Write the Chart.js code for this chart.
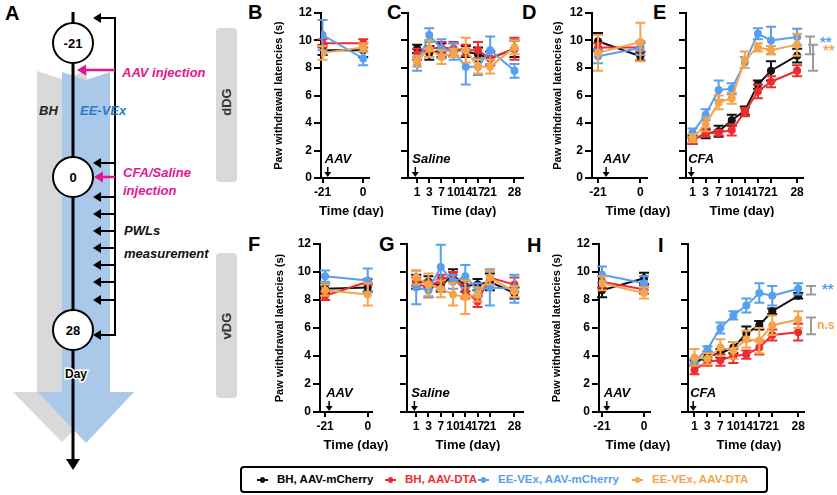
<!DOCTYPE html>
<html>
<head>
<meta charset="utf-8">
<script src="https://cdn.jsdelivr.net/npm/chart.js@4.4.1/dist/chart.umd.min.js"></script>
<style>
html, body { margin: 0; padding: 0; background: #fff; }
#page { position: relative; width: 837px; height: 495px; overflow: hidden; font-family: 'Liberation Sans', Arial, sans-serif; }
#page svg { position: absolute; left: 0; top: 0; }
#legend { position: absolute; left: 240px; top: 466px; width: 524px; height: 23px; border: 2px solid #000; border-radius: 4px; }
.item { position: absolute; top: 4px; font-size: 11.5px; font-weight: bold; line-height: 15px; white-space: nowrap; }
.mk { position: absolute; top: 11px; width: 11px; height: 2px; }
.mk::after { content: ''; position: absolute; left: 3px; top: -2px; width: 5px; height: 6px; border-radius: 50%; background: inherit; }
</style>
</head>
<body>
<div id="page">
<svg width="837" height="495" viewBox="0 0 837 495">
  <g font-family="'Liberation Sans', Arial, sans-serif" font-weight="bold">
    <!-- panel letters -->
    <text x="5" y="20" font-size="20">A</text>
    <text x="248" y="19" font-size="20">B</text>
    <text x="387" y="19" font-size="20">C</text>
    <text x="522" y="19" font-size="20">D</text>
    <text x="653" y="19" font-size="20">E</text>
    <text x="248" y="251" font-size="20">F</text>
    <text x="379" y="251" font-size="20">G</text>
    <text x="527" y="252" font-size="20">H</text>
    <text x="658" y="252" font-size="20">I</text>

    <!-- dDG / vDG side bars -->
    <rect x="216" y="28" width="21" height="154" rx="4" fill="#d9d9d9"/>
    <rect x="216" y="253" width="21" height="145" rx="4" fill="#d9d9d9"/>
    <text x="226.5" y="102" font-size="13" fill="#333" text-anchor="middle" transform="rotate(-90 226.5 102)" dy="4.5">dDG</text>
    <text x="226.5" y="326" font-size="13" fill="#333" text-anchor="middle" transform="rotate(-90 226.5 326)" dy="4.5">vDG</text>

    <!-- housing arrows -->
    <polygon fill="#d9d9d9" points="37,71 62,79 87,71 87,392 111,392 62,442 13,392 37,392"/>
    <polygon fill="#a9c8ea" points="62,72 86,80 110,72 110,392 134,392 86,443 38,392 62,392"/>

    <!-- timeline -->
    <line x1="73" y1="12" x2="73" y2="462" stroke="#000" stroke-width="3"/>
    <polygon points="66,459 80,459 73,470" fill="#000"/>

    <!-- measurement bracket -->
    <polyline points="101,18 115,18 115,335 101,335" fill="none" stroke="#000" stroke-width="2"/>
    <g stroke="#000" stroke-width="2">
      <line x1="101" y1="163" x2="115" y2="163"/>
      <line x1="101" y1="197" x2="115" y2="197"/>
      <line x1="101" y1="214" x2="115" y2="214"/>
      <line x1="101" y1="231" x2="115" y2="231"/>
      <line x1="101" y1="248" x2="115" y2="248"/>
      <line x1="101" y1="265" x2="115" y2="265"/>
      <line x1="101" y1="282" x2="115" y2="282"/>
      <line x1="101" y1="300" x2="115" y2="300"/>
    </g>
    <g fill="#000">
      <polygon points="93,18 101,13 101,23"/>
      <polygon points="93,163 101,158 101,168"/>
      <polygon points="93,197 101,192 101,202"/>
      <polygon points="93,214 101,209 101,219"/>
      <polygon points="93,231 101,226 101,236"/>
      <polygon points="93,248 101,243 101,253"/>
      <polygon points="93,265 101,260 101,270"/>
      <polygon points="93,282 101,277 101,287"/>
      <polygon points="93,300 101,295 101,305"/>
      <polygon points="93,335 101,330 101,340"/>
    </g>

    <!-- day circles -->
    <g fill="#fff" stroke="#000" stroke-width="2">
      <circle cx="73" cy="43" r="20"/>
      <circle cx="73" cy="177" r="20"/>
      <circle cx="73" cy="330" r="20"/>
    </g>
    <g font-size="13" text-anchor="middle">
      <text x="73" y="47.5">-21</text>
      <text x="73" y="181.5">0</text>
      <text x="73" y="334.5">28</text>
    </g>
    <text x="76" y="377.5" font-size="12" text-anchor="middle" stroke="#fff" stroke-width="3" paint-order="stroke">Day</text>

    <!-- injections -->
    <line x1="84" y1="70" x2="115" y2="70" stroke="#e3168c" stroke-width="2.5"/>
    <polygon points="77,70 86,64.5 86,75.5" fill="#e3168c"/>
    <line x1="101" y1="177" x2="115" y2="177" stroke="#e3168c" stroke-width="2.5"/>
    <polygon points="94,177 103,171.5 103,182.5" fill="#e3168c"/>
    <g font-style="italic" font-size="13">
      <text x="122" y="76.5" fill="#e3168c">AAV injection</text>
      <text x="123" y="176.5" fill="#e3168c">CFA/Saline</text>
      <text x="123" y="194.5" fill="#e3168c">injection</text>
      <text x="39" y="114.5" fill="#222">BH</text>
      <text x="80" y="114.5" fill="#2b7cc4">EE-VEx</text>
      <text x="124" y="234.5" fill="#111">PWLs</text>
      <text x="124" y="257.5" fill="#111">measurement</text>
    </g>
  </g>
</svg>
<div id="legend"></div>
</div>

<script>
// groups, in the order of the reference legend
const groups = ['BH, AAV-mCherry', 'BH, AAV-DTA', 'EE-VEx, AAV-mCherry', 'EE-VEx, AAV-DTA'];
const groupColors = ['#111111', '#ee2c2f', '#579ff0', '#f6a449'];

const preDays = [-21, 0];
// '' is the empty slot between day 21 and day 28 on the axis
const postLabels = ['1', '3', '7', '10', '14', '17', '21', '', '28'];

// dDG, before injection (B) and after saline (C) / CFA (D, E)
const bMean = [[9.3, 9.3], [9.8, 9.8], [10.4, 8.7], [9.1, 9.5]];
const bSem = [[0.35, 0.5], [0.3, 0.3], [1.1, 0.5], [0.5, 0.3]];

const cMean = [
  [9.4, 9.1, 9.3, 9.3, 9.2, 9.0, 8.7, 9.4],
  [9.0, 9.4, 9.5, 9.4, 9.3, 9.3, 8.7, 9.4],
  [8.3, 10.4, 9.4, 9.2, 8.1, 8.1, 9.3, 7.8],
  [8.5, 9.4, 8.8, 9.1, 9.3, 8.1, 8.1, 9.5]
];
const cSem = [
  [0.3, 0.5, 0.5, 0.5, 0.4, 0.5, 0.5, 0.6],
  [0.4, 0.6, 0.4, 0.5, 0.4, 0.6, 0.5, 0.8],
  [0.5, 0.5, 0.7, 0.6, 1.3, 0.6, 1.0, 0.5],
  [0.4, 0.6, 0.5, 0.3, 0.9, 0.5, 0.5, 0.5]
];

const dMean = [[9.95, 8.85], [9.5, 9.5], [8.85, 9.45], [9.1, 9.9]];
const dSem = [[0.6, 0.3], [0.3, 0.3], [0.5, 0.5], [1.3, 1.4]];

const eMean = [
  [2.8, 3.2, 3.4, 4.2, 4.9, 6.8, 7.8, 8.9],
  [2.7, 3.3, 3.3, 3.5, 4.8, 6.3, 7.0, 7.8],
  [3.3, 4.6, 6.4, 6.5, 8.4, 10.5, 10.0, 10.25],
  [2.9, 3.9, 5.5, 5.8, 8.6, 9.5, 9.3, 9.7]
];
const eSem = [
  [0.3, 0.3, 0.4, 0.4, 0.3, 0.3, 0.7, 0.5],
  [0.2, 0.3, 0.2, 0.4, 0.3, 0.5, 0.4, 0.4],
  [0.3, 0.4, 0.7, 0.4, 0.4, 0.4, 1.0, 0.6],
  [0.3, 0.5, 0.5, 0.4, 0.6, 0.3, 0.3, 0.8]
];

// vDG (F, G, H, I)
const fMean = [[8.8, 8.9], [8.3, 9.3], [9.7, 9.4], [8.7, 8.4]];
const fSem = [[0.3, 0.3], [0.3, 0.2], [0.4, 0.85], [0.4, 0.8]];

const gMean = [
  [9.3, 9.3, 9.0, 9.8, 9.0, 9.1, 9.3, 8.5],
  [9.3, 8.8, 9.5, 9.7, 8.6, 7.9, 9.6, 9.1],
  [8.9, 8.7, 10.35, 9.3, 9.7, 8.7, 8.9, 8.8],
  [9.6, 9.1, 8.8, 8.4, 8.2, 8.4, 9.6, 8.6]
];
const gSem = [
  [0.5, 0.4, 0.4, 0.4, 0.4, 0.4, 0.6, 0.4],
  [0.3, 0.6, 0.3, 0.3, 0.5, 0.4, 0.5, 0.5],
  [1.2, 0.5, 1.6, 0.5, 0.8, 0.5, 1.3, 1.0],
  [0.5, 0.8, 0.6, 0.8, 1.2, 0.5, 0.5, 0.4]
];

const hMean = [[8.7, 9.55], [9.3, 8.75], [9.8, 9.2], [9.2, 8.5]];
const hSem = [[0.5, 0.4], [0.4, 0.3], [0.6, 0.5], [0.5, 0.4]];

const iMean = [
  [3.5, 4.0, 4.2, 4.6, 5.6, 6.2, 7.2, 8.3],
  [3.0, 3.6, 3.7, 4.0, 4.1, 4.6, 5.5, 5.7],
  [3.6, 4.5, 6.0, 6.9, 7.6, 8.5, 8.3, 8.8],
  [3.9, 3.8, 4.6, 4.4, 5.2, 5.1, 6.2, 6.6]
];
const iSem = [
  [0.2, 0.3, 0.3, 0.4, 0.5, 0.3, 0.2, 0.2],
  [0.3, 0.3, 0.4, 0.5, 0.3, 0.5, 0.4, 0.6],
  [0.2, 0.2, 0.4, 0.3, 0.5, 0.7, 0.7, 0.4],
  [0.6, 0.4, 0.6, 0.6, 0.6, 0.9, 0.7, 0.6]
];

// significance brackets at day 28: [top, bottom] of each pair
const eSigPairs = [[10.3, 9.0], [9.7, 7.8]];
const eSigLabels = ['**', '**'];
const iSigPairs = [[9.0, 8.4], [6.75, 5.55]];
const iSigLabels = ['**', 'n.s'];

const FONT = "'Liberation Sans', Arial, Helvetica, sans-serif";
Chart.defaults.font.family = FONT;
Chart.defaults.color = '#000';

const postSlots = postLabels.map((l, i) => l === '' ? null : i).filter(i => i !== null);

const errorBars = {
  id: 'errorBars',
  afterDatasetDraw(chart, args) {
    const ds = chart.data.datasets[args.index];
    const y = chart.scales.y;
    const ctx = chart.ctx;
    ctx.save();
    ctx.strokeStyle = ds.borderColor;
    ctx.lineWidth = 2;
    ds.data.forEach((p, k) => {
      const el = args.meta.data[k];
      const hi = y.getPixelForValue(p.y + p.e);
      const lo = y.getPixelForValue(p.y - p.e);
      ctx.beginPath();
      ctx.moveTo(el.x, hi); ctx.lineTo(el.x, lo);
      ctx.moveTo(el.x - 5, hi); ctx.lineTo(el.x + 5, hi);
      ctx.moveTo(el.x - 5, lo); ctx.lineTo(el.x + 5, lo);
      ctx.stroke();
    });
    ctx.restore();
  }
};

// "AAV" / "Saline" / "CFA" arrow on the time axis, plus the axis title
// (drawn here so the short pre-injection axes don't squeeze it)
const timeNote = {
  id: 'timeNote',
  afterDraw(chart, args, opts) {
    const {ctx, chartArea, scales: {x, y}} = chart;
    const base = y.getPixelForValue(0);
    ctx.save();
    ctx.fillStyle = '#000';
    ctx.font = `bold 13px ${FONT}`;
    ctx.textAlign = 'center';
    ctx.textBaseline = 'middle';
    ctx.fillText('Time (day)', (chartArea.left + chartArea.right) / 2 + opts.titleDx, base + 33);

    const px = x.getPixelForValue(opts.at);
    ctx.strokeStyle = '#000';
    ctx.lineWidth = 1.5;
    ctx.beginPath();
    ctx.moveTo(px, base - 11);
    ctx.lineTo(px, base - 5);
    ctx.stroke();
    ctx.beginPath();
    ctx.moveTo(px - 3.5, base - 6);
    ctx.lineTo(px + 3.5, base - 6);
    ctx.lineTo(px, base - 1);
    ctx.closePath();
    ctx.fill();
    ctx.font = `italic bold 13px ${FONT}`;
    ctx.textAlign = 'left';
    ctx.fillText(opts.text, px - 3, base - 19);
    ctx.restore();
  }
};

const sigBrackets = {
  id: 'sigBrackets',
  afterDraw(chart, args, opts) {
    if (!opts.pairs) return;
    const {ctx, chartArea, scales: {y}} = chart;
    ctx.save();
    opts.pairs.forEach((pair, i) => {
      const x0 = chartArea.right + opts.dx[i];
      const top = y.getPixelForValue(pair[0]);
      const bot = y.getPixelForValue(pair[1]);
      ctx.strokeStyle = '#9c9c9c';
      ctx.lineWidth = 2;
      ctx.beginPath();
      ctx.moveTo(x0, top); ctx.lineTo(x0, bot);
      ctx.moveTo(x0 - 5, top); ctx.lineTo(x0 + 5, top);
      ctx.moveTo(x0 - 5, bot); ctx.lineTo(x0 + 5, bot);
      ctx.stroke();
      ctx.fillStyle = groupColors[opts.colorIdx[i]];
      ctx.font = `bold ${opts.labels[i] === 'n.s' ? 12 : 15}px ${FONT}`;
      ctx.textAlign = 'left';
      ctx.textBaseline = 'middle';
      ctx.fillText(opts.labels[i], x0 + opts.labelDx[i], opts.labelY[i] === 'top' ? top + 6 : (top + bot) / 2);
    });
    ctx.restore();
  }
};

const panels = [
  {left: 272, top: 0, h: 217, yW: 49, areaW: 48, padR: 30, pre: true, xMin: -21.8, xMax: 3, mean: bMean, sem: bSem,
    yTitle: true, note: 'AAV', noteAt: -18.3, titleDx: 6.5},
  {left: 400, top: 0, h: 217, yW: 8, areaW: 115, padR: 8, xMin: -0.75, xMax: 8.7, mean: cMean, sem: cSem,
    note: 'Saline', noteAt: -0.15, titleDx: -1.5},
  {left: 551, top: 0, h: 217, yW: 41, areaW: 55, padR: 30, pre: true, xMin: -24, xMax: 3.3, mean: dMean, sem: dSem,
    yTitle: true, note: 'AAV', noteAt: -17, titleDx: 18.5},
  {left: 678, top: 0, h: 217, yW: 8, areaW: 117, padR: 34, xMin: -0.5, xMax: 8.45, mean: eMean, sem: eSem,
    note: 'CFA', noteAt: -0.1, titleDx: -2.5,
    sig: {pairs: eSigPairs, labels: eSigLabels, colorIdx: [2, 3], dx: [7, 10], labelDx: [10, 10], labelY: ['top', 'top']}},
  {left: 273, top: 231, h: 220, yW: 47, areaW: 52, padR: 30, pre: true, xMin: -23.5, xMax: 2.1, mean: fMean, sem: fSem,
    yTitle: true, note: 'AAV', noteAt: -19, titleDx: 10},
  {left: 399, top: 231, h: 220, yW: 8, areaW: 116, padR: 8, xMin: -0.75, xMax: 8.7, mean: gMean, sem: gSem,
    note: 'Saline', noteAt: -0.15, titleDx: 3},
  {left: 550, top: 231, h: 220, yW: 49, areaW: 51, padR: 30, pre: true, xMin: -22.5, xMax: 3, mean: hMean, sem: hSem,
    yTitle: true, note: 'AAV', noteAt: -18.6, titleDx: 13.5},
  {left: 680, top: 231, h: 220, yW: 8, areaW: 116, padR: 33, xMin: -0.5, xMax: 8.45, mean: iMean, sem: iSem,
    note: 'CFA', noteAt: -0.1, titleDx: 3,
    sig: {pairs: iSigPairs, labels: iSigLabels, colorIdx: [2, 3], dx: [7, 7], labelDx: [11, 6], labelY: ['mid', 'mid']}}
];

const makePanel = (p) => {
  const canvas = document.createElement('canvas');
  const width = p.yW + p.areaW + p.padR;
  canvas.width = width;
  canvas.height = p.h;
  canvas.style.cssText = `position:absolute;left:${p.left}px;top:${p.top}px;width:${width}px;height:${p.h}px`;
  document.getElementById('page').insertBefore(canvas, document.getElementById('legend'));

  const xs = p.pre ? preDays : postSlots;
  const tickFont = {size: 12, weight: 'bold'};

  new Chart(canvas, {
    type: 'line',
    data: {
      datasets: p.mean.map((m, g) => ({
        label: groups[g],
        order: 4 - g,
        data: m.map((v, k) => ({x: xs[k], y: v, e: p.sem[g][k]})),
        borderColor: groupColors[g],
        backgroundColor: groupColors[g],
        borderWidth: 2,
        pointRadius: 4,
        pointHoverRadius: 4,
        pointBorderWidth: 0,
        tension: 0
      }))
    },
    options: {
      responsive: false,
      animation: false,
      devicePixelRatio: 1,
      layout: {padding: {top: 13, right: p.padR, left: 0, bottom: 0}},
      plugins: {
        legend: {display: false},
        tooltip: {enabled: false},
        timeNote: {text: p.note, at: p.noteAt, titleDx: p.titleDx},
        sigBrackets: p.sig || {}
      },
      scales: {
        x: {
          type: 'linear',
          min: p.xMin,
          max: p.xMax,
          afterBuildTicks: s => { s.ticks = xs.map(v => ({value: v})); },
          ticks: {
            autoSkip: false, maxRotation: 0, minRotation: 0, padding: 2,
            font: tickFont, color: '#000',
            callback: v => p.pre ? String(v) : postLabels[v]
          },
          grid: {drawOnChartArea: false, tickLength: 5, color: '#000', lineWidth: 2},
          border: {color: '#000', width: 2},
          title: {display: false},
          afterFit: s => { s.height = 39; }
        },
        y: {
          min: 0,
          max: 12,
          ticks: {
            stepSize: 2, padding: 2, font: tickFont, color: '#000',
            callback: v => p.yTitle ? String(v) : ''
          },
          grid: {drawOnChartArea: false, tickLength: 7, color: '#000', lineWidth: 2},
          border: {color: '#000', width: 2},
          title: {display: !!p.yTitle, text: 'Paw withdrawal latencies (s)', font: {size: 11, weight: 'bold'}, color: '#000', padding: 0},
          afterFit: s => { s.width = p.yW; }
        }
      }
    },
    plugins: [errorBars, timeNote, sigBrackets]
  });
};

panels.forEach(makePanel);

// legend strip at the bottom
const legendTextLefts = [35, 163, 256, 410];
const legend = document.getElementById('legend');
groups.forEach((name, g) => {
  const mk = document.createElement('span');
  mk.className = 'mk';
  mk.style.left = (legendTextLefts[g] - 20) + 'px';
  mk.style.background = groupColors[g];
  legend.appendChild(mk);
  const item = document.createElement('span');
  item.className = 'item';
  item.style.left = legendTextLefts[g] + 'px';
  item.style.color = g === 0 ? '#000' : groupColors[g];
  item.textContent = name;
  legend.appendChild(item);
});
</script>
</body>
</html>
